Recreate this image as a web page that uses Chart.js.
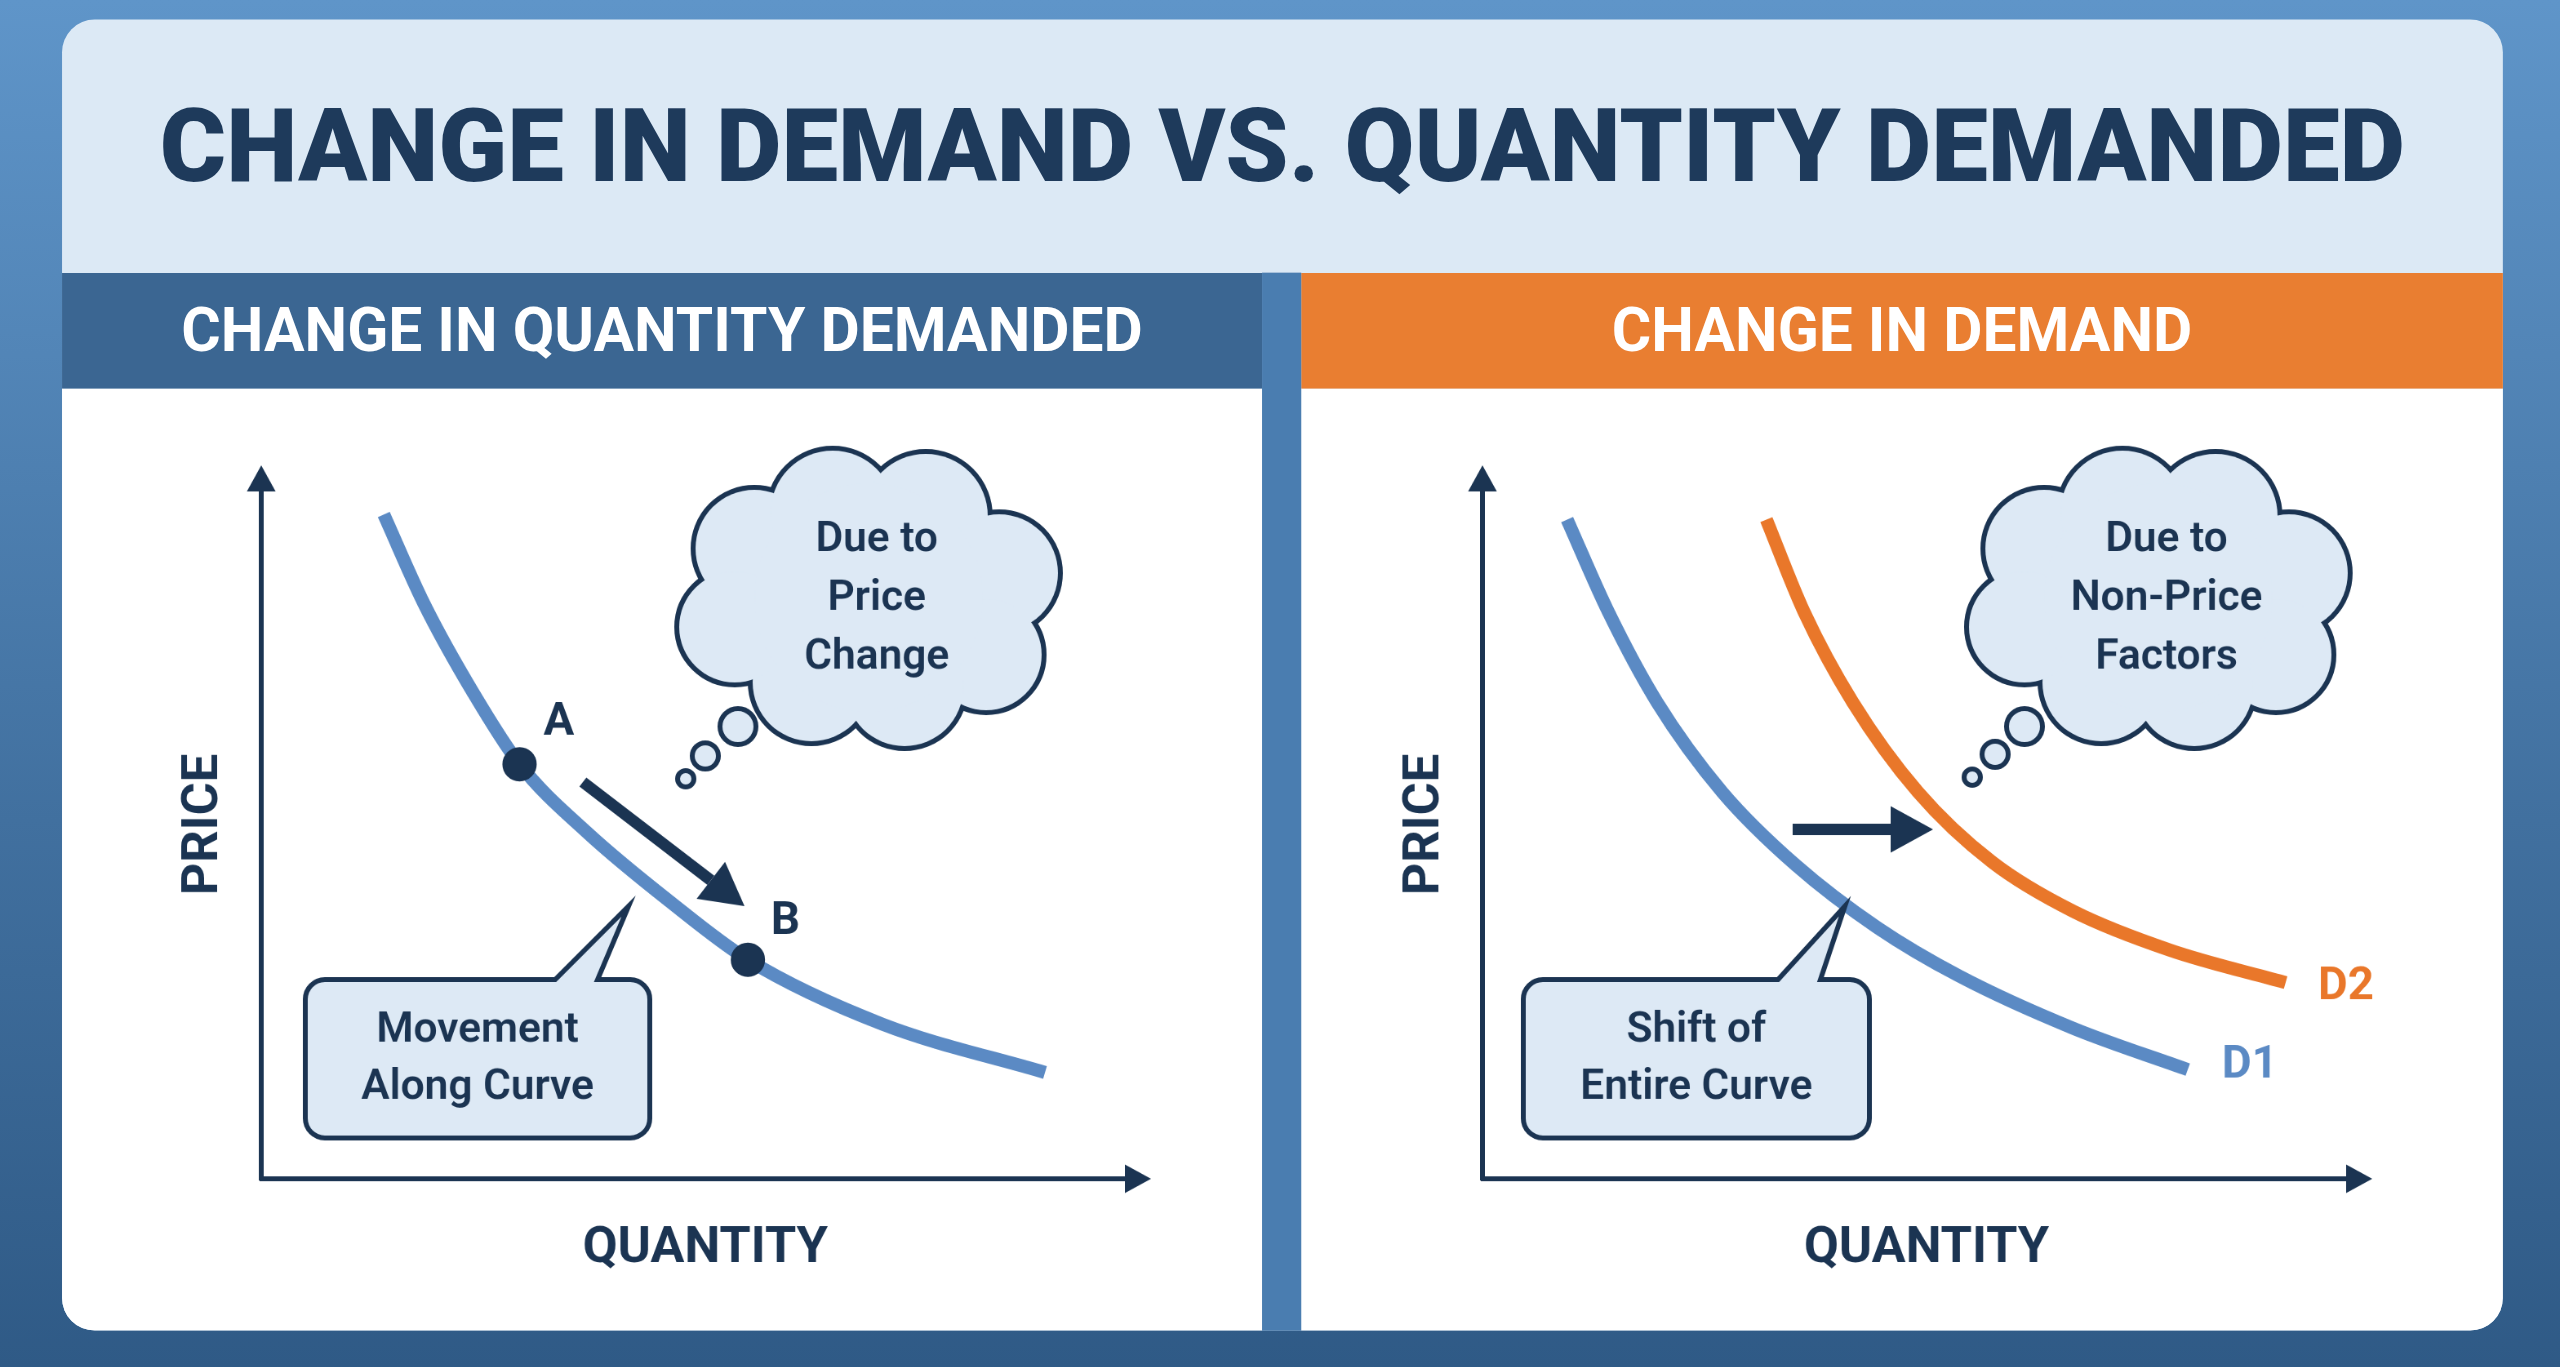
<!DOCTYPE html>
<html><head><meta charset="utf-8">
<script src="https://cdn.jsdelivr.net/npm/chart.js@4.4.1/dist/chart.umd.min.js"></script>
<style>
html,body{margin:0;padding:0;width:2560px;height:1367px;overflow:hidden;}
body{background:linear-gradient(180deg,#5f95c9 0%,#41709f 60%,#2f5a86 100%);font-family:Roboto,"Open Sans",sans-serif;}
#wrap{position:absolute;left:0;top:0;width:1568px;height:837px;transform:scale(1.63265);transform-origin:0 0;}
#card{position:absolute;left:38px;top:12px;width:1495px;height:803px;border-radius:20px;overflow:hidden;background:#dce9f5;}
#title{position:absolute;left:0;top:0;width:1495px;height:155px;line-height:155px;text-align:center;color:#1e3a5b;font-weight:900;font-size:62px;letter-spacing:0px;}
.hdr{position:absolute;top:155px;height:71px;line-height:71px;text-align:center;color:#fff;font-weight:700;font-size:37px;}
#h1{left:0;width:735px;background:#3b6692;}
#h2{left:759px;width:736px;background:#e97e31;}
#gap{position:absolute;left:735px;top:155px;width:24px;height:648px;background:#4a7db0;}
.panel{position:absolute;top:226px;height:577px;background:#fff;}
#p1{left:0;width:735px;}
#p2{left:759px;width:736px;}
</style></head><body>
<div id="wrap"><div id="card">
<div id="title">CHANGE IN DEMAND VS. QUANTITY DEMANDED</div>
<div class="hdr" id="h1">CHANGE IN QUANTITY DEMANDED</div>
<div class="hdr" id="h2">CHANGE IN DEMAND</div>
<div id="gap"></div>
<div class="panel" id="p1"><canvas id="c1" width="735" height="577"></canvas></div>
<div class="panel" id="p2"><canvas id="c2" width="736" height="577"></canvas></div>
</div></div>
<script>
// Data (x = quantity, y = price, 0..10 scale)
const curveQty   = [1.39, 1.85, 2.41, 2.93, 3.70, 4.63, 5.52, 7.04, 8.89];
const curvePrice = [9.31, 8.05, 6.80, 5.81, 4.85, 3.89, 3.07, 2.17, 1.49];
const pointLabels = ['A', 'B'];
const pointQty   = [2.93, 5.52];
const pointPrice = [5.81, 3.07];
const d1Qty   = [0.96, 1.43, 1.98, 2.72, 3.56, 4.48, 5.41, 6.70, 8.0];
const d1Price = [9.24, 7.94, 6.68, 5.42, 4.39, 3.52, 2.84, 2.11, 1.53];
const d2Qty   = [3.22, 3.65, 4.20, 4.94, 5.78, 6.70, 7.81, 9.11];
const d2Price = [9.24, 7.94, 6.68, 5.42, 4.44, 3.75, 3.20, 2.75];
const seriesNames = ['D1', 'D2'];

const NAVY='#1b3452', BLUE='#5b8ac4', ORANGE='#e9772a', BUBBLE='#dde9f5';
const zip=(xs,ys)=>xs.map((x,i)=>({x,y:ys[i]}));

function cloud(ctx,cx,cy,lines,small){
  const circ=[[-70,-30,36],[-22,-52,38],[35,-50,38],[80,-15,36],[72,35,34],[22,55,36],[-35,52,36],[-82,18,34],[0,0,70]];
  const all=circ.map(c=>[cx+c[0],cy+c[1],c[2]]);
  ctx.lineWidth=6;ctx.strokeStyle=NAVY;
  all.forEach(c=>{ctx.beginPath();ctx.arc(c[0],c[1],c[2],0,Math.PI*2);ctx.stroke();});
  ctx.fillStyle=BUBBLE;
  all.forEach(c=>{ctx.beginPath();ctx.arc(c[0],c[1],c[2],0,Math.PI*2);ctx.fill();});
  ctx.lineWidth=3;
  small.forEach(c=>{ctx.beginPath();ctx.arc(c[0],c[1],c[2],0,Math.PI*2);ctx.fillStyle=BUBBLE;ctx.fill();ctx.stroke();});
  ctx.fillStyle=NAVY;ctx.font='600 26px Roboto';ctx.textAlign='center';ctx.textBaseline='middle';
  lines.forEach((t,i)=>ctx.fillText(t,cx+5,cy-35+i*36));
}
function callout(ctx,x,y,w,h,tx1,tx2,tipx,tipy,lines){
  const r=12;
  ctx.beginPath();
  ctx.moveTo(x+r,y);ctx.lineTo(tx1,y);ctx.lineTo(tipx,tipy);ctx.lineTo(tx2,y);
  ctx.lineTo(x+w-r,y);ctx.arcTo(x+w,y,x+w,y+r,r);ctx.lineTo(x+w,y+h-r);ctx.arcTo(x+w,y+h,x+w-r,y+h,r);
  ctx.lineTo(x+r,y+h);ctx.arcTo(x,y+h,x,y+h-r,r);ctx.lineTo(x,y+r);ctx.arcTo(x,y,x+r,y,r);ctx.closePath();
  ctx.fillStyle=BUBBLE;ctx.fill();ctx.lineWidth=3;ctx.strokeStyle=NAVY;ctx.stroke();
  ctx.fillStyle=NAVY;ctx.font='600 26px Roboto';ctx.textAlign='center';ctx.textBaseline='middle';
  lines.forEach((t,i)=>ctx.fillText(t,x+w/2,y+h/2-17+i*35));
}
function arrow(ctx,x1,y1,x2,y2,w,hl){
  const a=Math.atan2(y2-y1,x2-x1);
  const bx=x2-hl*Math.cos(a),by=y2-hl*Math.sin(a);
  ctx.strokeStyle=NAVY;ctx.fillStyle=NAVY;ctx.lineWidth=w;
  ctx.beginPath();ctx.moveTo(x1,y1);ctx.lineTo(bx,by);ctx.stroke();
  ctx.beginPath();ctx.moveTo(x2,y2);
  ctx.lineTo(bx+hl*0.55*Math.sin(a),by-hl*0.55*Math.cos(a));
  ctx.lineTo(bx-hl*0.55*Math.sin(a),by+hl*0.55*Math.cos(a));ctx.closePath();ctx.fill();
}
function axes(ctx,ca){
  const x0=ca.left,y0=ca.bottom;
  arrow(ctx,x0,y0+1,x0,47,3,16);
  arrow(ctx,x0-1,y0,x0+545,y0,3,16);
  ctx.fillStyle=NAVY;ctx.font='700 31px Roboto';ctx.textAlign='center';ctx.textBaseline='middle';
  ctx.fillText('QUANTITY',x0+272,527);
  ctx.save();ctx.translate(x0-35,267);ctx.rotate(-Math.PI/2);ctx.fillText('PRICE',0,0);ctx.restore();
}
const base=(datasets,pad,drawFn)=>({
  type:'scatter',
  data:{datasets},
  options:{responsive:false,animation:false,devicePixelRatio:2,
    layout:{padding:pad},
    plugins:{legend:{display:false},tooltip:{enabled:false}},
    scales:{x:{type:'linear',min:0,max:10,display:false},y:{type:'linear',min:0,max:10,display:false}}},
  plugins:[{id:'under',beforeDatasetsDraw(c){axes(c.ctx,c.chartArea);}},{id:'deco',afterDatasetsDraw(c){drawFn(c);}}]
});
const lineDs=(d,col)=>({data:d,showLine:true,borderColor:col,borderWidth:8,pointRadius:0,cubicInterpolationMode:'monotone',fill:false,borderCapStyle:'butt'});

new Chart(document.getElementById('c1'),base([
  {data:zip(pointQty,pointPrice),pointRadius:10,pointBackgroundColor:NAVY,pointBorderColor:NAVY,showLine:false},
  lineDs(zip(curveQty,curvePrice),BLUE)
],{left:122,right:73,top:47,bottom:93},function(c){
  const ctx=c.ctx,xs=c.scales.x,ys=c.scales.y;
  ctx.fillStyle=NAVY;ctx.font='700 28px Roboto';ctx.textAlign='center';ctx.textBaseline='middle';
  ctx.fillText(pointLabels[0],xs.getPixelForValue(pointQty[0])+24,ys.getPixelForValue(pointPrice[0])-25);
  ctx.fillText(pointLabels[1],xs.getPixelForValue(pointQty[1])+23,ys.getPixelForValue(pointPrice[1])-23);
  arrow(ctx,319,241,418,317,7,26);
  cloud(ctx,494,128,['Due to','Price','Change'],[[414,207,11],[394,225,8],[382,239,5]]);
  callout(ctx,149,362,211,97,302,328,347,317,['Movement','Along Curve']);
}));

new Chart(document.getElementById('c2'),base([
  lineDs(zip(d1Qty,d1Price),BLUE),
  lineDs(zip(d2Qty,d2Price),ORANGE)
],{left:111,right:85,top:47,bottom:93},function(c){
  const ctx=c.ctx,xs=c.scales.x,ys=c.scales.y;
  ctx.font='700 28px Roboto';ctx.textAlign='center';ctx.textBaseline='middle';
  ctx.fillStyle=BLUE;ctx.fillText(seriesNames[0],xs.getPixelForValue(d1Qty[8])+38,ys.getPixelForValue(d1Price[8])-2);
  ctx.fillStyle=ORANGE;ctx.fillText(seriesNames[1],xs.getPixelForValue(d2Qty[7])+37,ys.getPixelForValue(d2Price[7])+3);
  arrow(ctx,301,270,387,270,7,26);
  cloud(ctx,525,128,['Due to','Non-Price','Factors'],[[443,207,11],[425,224,8],[411,238,5]]);
  callout(ctx,136,362,212,97,292,318,333,317,['Shift of','Entire Curve']);
}));
</script>
</body></html>
